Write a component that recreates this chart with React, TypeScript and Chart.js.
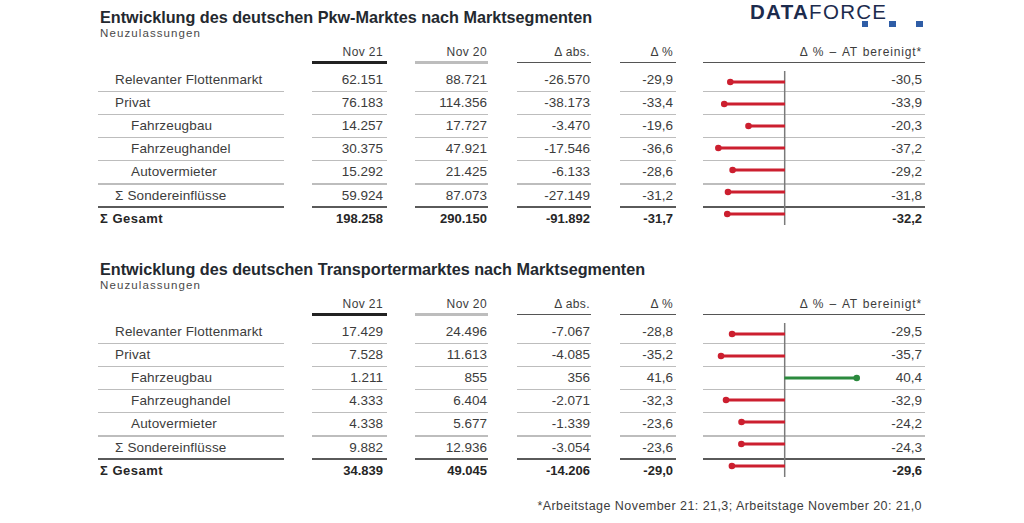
import React, { useEffect, useRef } from "react";
import { Chart, registerables } from "chart.js";

Chart.register(...registerables);

// ---------- data ----------
const rowLabels = [
  "Relevanter Flottenmarkt",
  "Privat",
  "Fahrzeugbau",
  "Fahrzeughandel",
  "Autovermieter",
  "Σ Sondereinflüsse",
  "Σ Gesamt",
];
const rowIndent = [1, 1, 2, 2, 2, 1, 0];
const headerLabels = ["Nov 21", "Nov 20", "Δ abs.", "Δ %", "Δ % – AT bereinigt*"];

const pkwTitle = "Entwicklung des deutschen Pkw-Marktes nach Marktsegmenten";
const pkwNov21 = [62151, 76183, 14257, 30375, 15292, 59924, 198258];
const pkwNov20 = [88721, 114356, 17727, 47921, 21425, 87073, 290150];
const pkwAbs = [-26570, -38173, -3470, -17546, -6133, -27149, -91892];
const pkwPct = [-29.9, -33.4, -19.6, -36.6, -28.6, -31.2, -31.7];
const pkwAT = [-30.5, -33.9, -20.3, -37.2, -29.2, -31.8, -32.2];

const trTitle = "Entwicklung des deutschen Transportermarktes nach Marktsegmenten";
const trNov21 = [17429, 7528, 1211, 4333, 4338, 9882, 34839];
const trNov20 = [24496, 11613, 855, 6404, 5677, 12936, 49045];
const trAbs = [-7067, -4085, 356, -2071, -1339, -3054, -14206];
const trPct = [-28.8, -35.2, 41.6, -32.3, -23.6, -23.6, -29.0];
const trAT = [-29.5, -35.7, 40.4, -32.9, -24.2, -24.3, -29.6];

const subtitle = "Neuzulassungen";
const footnote = "*Arbeitstage November 21: 21,3; Arbeitstage November 20: 21,0";
const xMin = -43;
const xMax = 77;

// ---------- helpers ----------
const FONT = '"Liberation Sans", Arial, Helvetica, sans-serif';
const RED = "#cc1f2f";
const GREEN = "#2b8a3e";
const TEXT = "#3c3c3c";

function fmtInt(v: number): string {
  const s = Math.abs(v).toString().replace(/\B(?=(\d{3})+(?!\d))/g, ".");
  return (v < 0 ? "-" : "") + s;
}
function fmtDec(v: number): string {
  return v.toFixed(1).replace(".", ",");
}

type TxtProps = {
  x: number;
  cy: number;
  text: string;
  size: number;
  align?: "left" | "right";
  bold?: boolean;
  color?: string;
  ls?: number;
  ws?: number;
};
function Txt({ x, cy, text, size, align = "left", bold, color = TEXT, ls = 0, ws = 0 }: TxtProps) {
  const h = Math.round(size * 1.6);
  const style: React.CSSProperties = {
    position: "absolute",
    top: cy - h / 2,
    height: h,
    lineHeight: h + "px",
    fontSize: size,
    fontFamily: FONT,
    fontWeight: bold ? 700 : 400,
    color,
    whiteSpace: "nowrap",
    letterSpacing: ls,
    wordSpacing: ws,
  };
  if (align === "left") style.left = x;
  else {
    style.right = 1024 - x;
    style.textAlign = "right";
  }
  return <div style={style}>{text}</div>;
}

function HLine({ x1, x2, y, w, color }: { x1: number; x2: number; y: number; w: number; color: string }) {
  return (
    <div
      style={{
        position: "absolute",
        left: x1,
        width: x2 - x1,
        top: y - w / 2,
        height: w,
        background: color,
      }}
    />
  );
}

const zeroLinePlugin = {
  id: "zeroLine",
  beforeDatasetsDraw(chart: any) {
    const xs = chart.scales.x;
    const a = chart.chartArea;
    const px = xs.getPixelForValue(0);
    const ctx = chart.ctx;
    ctx.save();
    ctx.strokeStyle = "#7a7a7a";
    ctx.lineWidth = 1.5;
    ctx.beginPath();
    ctx.moveTo(px, a.top);
    ctx.lineTo(px, a.bottom);
    ctx.stroke();
    ctx.restore();
  },
};

function Lollipop({ values, left, top, width, height }: { values: number[]; left: number; top: number; width: number; height: number }) {
  const ref = useRef<HTMLCanvasElement | null>(null);
  useEffect(() => {
    if (!ref.current) return;
    const colors = values.map((v) => (v < 0 ? RED : GREEN));
    const chart = new Chart(ref.current, {
      type: "bar",
      data: {
        labels: rowLabels,
        datasets: [
          {
            type: "bar",
            data: values,
            indexAxis: "y",
            backgroundColor: colors,
            borderWidth: 0,
            barThickness: 2.4,
          } as any,
          {
            type: "line",
            data: values,
            indexAxis: "y",
            showLine: false,
            pointRadius: 3.3,
            pointBorderWidth: 0,
            pointBackgroundColor: colors,
            pointBorderColor: colors,
          } as any,
        ],
      },
      options: {
        indexAxis: "y",
        animation: false,
        responsive: true,
        maintainAspectRatio: false,
        layout: { padding: 0 },
        plugins: { legend: { display: false }, tooltip: { enabled: false } },
        scales: {
          x: { type: "linear", min: xMin, max: xMax, display: false },
          y: { type: "category", display: false, offset: true },
        },
      } as any,
      plugins: [zeroLinePlugin],
    });
    return () => chart.destroy();
  }, [values]);
  return (
    <div style={{ position: "absolute", left, top, width, height }}>
      <canvas ref={ref} />
    </div>
  );
}

// column geometry
const colRight = [383, 487, 590, 673, 922];
const colLines: [number, number][] = [
  [312, 387],
  [415, 488],
  [517, 591],
  [620, 676],
  [703, 925],
];
const labelLine: [number, number] = [98, 284];
const indentX = [100, 115, 131];

function Table({
  off,
  title,
  nov21,
  nov20,
  abs,
  pct,
  at,
}: {
  off: number;
  title: string;
  nov21: number[];
  nov20: number[];
  abs: number[];
  pct: number[];
  at: number[];
}) {
  const rowY = (i: number) => off + 80 + 23.1 * i;
  const els: React.ReactNode[] = [];
  els.push(<Txt key="t" x={100} cy={off + 16.7} text={title} size={16.2} bold color="#24292f" />);
  els.push(<Txt key="s" x={100} cy={off + 33} text={subtitle} size={11.5} ls={1.1} color="#4a4a4a" />);
  headerLabels.forEach((h, k) =>
    els.push(
      <Txt
        key={"h" + k}
        x={colRight[k]}
        cy={off + 52}
        text={h}
        size={12}
        ls={k === 4 ? 0.85 : 0.4}
        ws={k === 4 ? 0.8 : 0}
        align="right"
      />
    )
  );
  // header underlines
  const hlStyles = [
    { w: 3, c: "#222222" },
    { w: 3, c: "#bdbdbd" },
    { w: 1.6, c: "#555555" },
    { w: 1.6, c: "#555555" },
    { w: 1.6, c: "#555555" },
  ];
  colLines.forEach((cl, k) =>
    els.push(<HLine key={"hl" + k} x1={cl[0]} x2={cl[1]} y={off + 62.3} w={hlStyles[k].w} color={hlStyles[k].c} />)
  );
  // row separators
  for (let i = 0; i < 6; i++) {
    const y = rowY(i) + 11.55;
    const last = i === 5;
    const color = last ? "#5a5a5a" : "#bdbdbd";
    const w = last ? 1.6 : 1.2;
    els.push(<HLine key={"sl" + i} x1={labelLine[0]} x2={labelLine[1]} y={y} w={w} color={color} />);
    colLines.forEach((cl, k) =>
      els.push(<HLine key={"s" + i + "_" + k} x1={cl[0]} x2={cl[1]} y={y} w={w} color={color} />)
    );
  }
  rowLabels.forEach((lab, i) => {
    const bold = i === 6;
    const cy = rowY(i);
    const sz = bold ? 13 : 13.5;
    const col = bold ? "#262626" : TEXT;
    els.push(
      <Txt key={"l" + i} x={indentX[rowIndent[i]]} cy={cy} text={lab} size={sz} bold={bold} color={col} ls={bold ? 0.5 : 0.15} />
    );
    const vals = [fmtInt(nov21[i]), fmtInt(nov20[i]), fmtInt(abs[i]), fmtDec(pct[i]), fmtDec(at[i])];
    vals.forEach((v, k) =>
      els.push(
        <Txt key={"v" + i + "_" + k} x={colRight[k]} cy={cy} text={v} size={sz} bold={bold} color={col} align="right" />
      )
    );
  });
  return (
    <>
      {els}
      <Lollipop values={at} left={704} top={off + 67} width={222} height={162} />
    </>
  );
}

export default function App() {
  return (
    <div
      style={{
        position: "absolute",
        left: 0,
        top: 0,
        width: 1024,
        height: 523,
        background: "#ffffff",
        overflow: "hidden",
        fontFamily: FONT,
      }}
    >
      {/* logo */}
      <div
        style={{
          position: "absolute",
          left: 750,
          top: -1,
          height: 26,
          lineHeight: "26px",
          fontSize: 20.5,
          fontFamily: FONT,
          color: "#1c2b4d",
          letterSpacing: 1.3,
          whiteSpace: "nowrap",
        }}
      >
        <span style={{ fontWeight: 700 }}>DATA</span>
        <span style={{ fontWeight: 400 }}>FORCE</span>
      </div>
      {[865, 892.5, 919.5].map((x, i) => (
        <div
          key={"sq" + i}
          style={{ position: "absolute", left: x - 3.3, top: 20.7, width: 6.6, height: 6.6, background: "#2f5da6" }}
        />
      ))}
      <Table off={0} title={pkwTitle} nov21={pkwNov21} nov20={pkwNov20} abs={pkwAbs} pct={pkwPct} at={pkwAT} />
      <Table off={252} title={trTitle} nov21={trNov21} nov20={trNov20} abs={trAbs} pct={trPct} at={trAT} />
      <Txt x={922} cy={506} text={footnote} size={12.5} align="right" ls={0.45} color="#3c3c3c" />
    </div>
  );
}
